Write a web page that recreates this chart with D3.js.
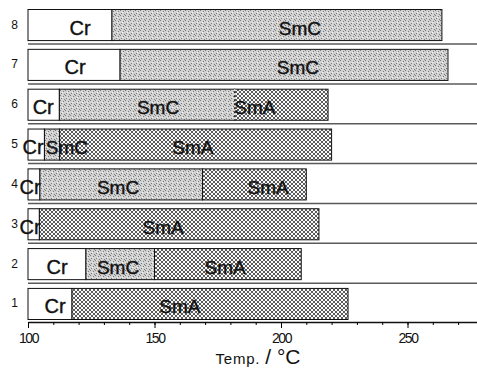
<!DOCTYPE html>
<html>
<head>
<meta charset="utf-8">
<script src="https://cdn.jsdelivr.net/npm/d3@7"></script>
<style>
  body { margin: 0; background: #fff; }
  svg { display: block; font-family: "Liberation Sans", Arial, sans-serif; }
</style>
</head>
<body>
<div id="chart"></div>
<script>
// sample numbers (bottom to top)
const samples = [1, 2, 3, 4, 5, 6, 7, 8];
// Cr -> first mesophase, °C
const meltT = [117.4, 122.9, 104.5, 104.7, 106.5, 112.4, 136.4, 133.2];
// SmC -> SmA, °C (null = no such step)
const smcSmaT = [null, 150.0, null, 169.0, 112.5, 181.7, null, null];
// clearing point, °C
const clearT = [226.5, 208.0, 215.0, 210.0, 220.0, 218.6, 266.0, 263.6];
// phase right above Cr when there is no SmC -> SmA step
const firstPhase = ['SmA', 'SmC', 'SmA', 'SmC', 'SmC', 'SmC', 'SmC', 'SmC'];
// where the phase names are written, °C
const crLabelT  = [110.7, 111.5, 100.8, 100.8, 102.0, 106.0, 118.6, 120.6];
const smcLabelT = [null, 135.6, null, 135.6, 115.4, 151.4, 206.7, 207.5];
const smaLabelT = [160.0, 177.9, 153.4, 194.9, 165.2, 189.7, null, null];
const xTicks = [100, 150, 200, 250];
const xMinorTicks = [100, 110, 120, 130, 140, 150, 160, 170, 180, 190, 200, 210, 220, 230, 240, 250, 260, 270, 280];

const W = 477, H = 373;

const svg = d3.select('#chart')
  .append('svg')
    .attr('width', W)
    .attr('height', H);

// fill patterns
const defs = svg.append('defs');

const smc = defs.append('pattern')
  .attr('id', 'smc')
  .attr('patternUnits', 'userSpaceOnUse')
  .attr('width', 5).attr('height', 5);
smc.append('rect').attr('width', 5).attr('height', 5).attr('fill', '#d2d2d2');
[[0, 0], [3, 1], [1, 3], [4, 4], [2, 2]].forEach((p, i) => {
  smc.append('rect')
    .attr('x', p[0]).attr('y', p[1])
    .attr('width', 1).attr('height', 1)
    .attr('fill', i === 4 ? '#f4f4f4' : '#7a7a7a');
});

const sma = defs.append('pattern')
  .attr('id', 'sma')
  .attr('patternUnits', 'userSpaceOnUse')
  .attr('width', 4).attr('height', 4);
sma.append('rect').attr('width', 4).attr('height', 4).attr('fill', '#fafafa');
sma.append('path')
  .attr('d', 'M0,0L4,4M4,0L0,4')
  .attr('stroke', '#4a4a4a')
  .attr('stroke-width', 0.9);

const phaseFill = {Cr: '#fff', SmC: 'url(#smc)', SmA: 'url(#sma)'};

// scales
const x = d3.scaleLinear().domain([100, 280]).range([28, 483.4]);
const y = d3.scaleBand()
  .domain(samples.slice().reverse())
  .range([9.5, 319.5])
  .paddingInner(0.22)
  .paddingOuter(0);

// Prepare data
const segments = [];
const labels = [];
samples.forEach((s, i) => {
  segments.push({s: s, phase: 'Cr', from: 100, to: meltT[i]});
  if (smcSmaT[i] !== null) {
    segments.push({s: s, phase: 'SmC', from: meltT[i], to: smcSmaT[i]});
    segments.push({s: s, phase: 'SmA', from: smcSmaT[i], to: clearT[i]});
  } else {
    segments.push({s: s, phase: firstPhase[i], from: meltT[i], to: clearT[i]});
  }
  labels.push({s: s, text: 'Cr', t: crLabelT[i]});
  if (smcLabelT[i] !== null) labels.push({s: s, text: 'SmC', t: smcLabelT[i]});
  if (smaLabelT[i] !== null) labels.push({s: s, text: 'SmA', t: smaLabelT[i]});
});

// row separators
svg.append('g')
  .selectAll('line')
  .data(samples.filter(s => s !== 1))
  .enter().append('line')
    .attr('x1', x(100))
    .attr('x2', W)
    .attr('y1', s => y(s) + y.bandwidth() + 3.5)
    .attr('y2', s => y(s) + y.bandwidth() + 3.5)
    .attr('stroke', '#5a5a5a')
    .attr('stroke-width', 1.5);

// bars
svg.append('g')
  .selectAll('rect')
  .data(segments)
  .enter().append('rect')
    .attr('x', d => x(d.from))
    .attr('y', d => y(d.s))
    .attr('width', d => x(d.to) - x(d.from))
    .attr('height', y.bandwidth())
    .attr('fill', d => phaseFill[d.phase])
    .attr('stroke', '#111')
    .attr('stroke-width', 1);

// dotted SmC/SmA border of sample 6
svg.append('line')
  .attr('x1', x(smcSmaT[5])).attr('x2', x(smcSmaT[5]))
  .attr('y1', y(6)).attr('y2', y(6) + y.bandwidth())
  .attr('stroke', '#fff')
  .attr('stroke-width', 1.2)
  .attr('stroke-dasharray', '2,2');

// phase names
svg.append('g')
  .selectAll('text')
  .data(labels)
  .enter().append('text')
    .attr('x', d => x(d.t))
    .attr('y', d => y(d.s) + 25)
    .attr('text-anchor', 'middle')
    .attr('font-size', d => d.text === 'Cr' ? 20 : 19)
    .attr('fill', '#111')
    .attr('stroke', '#111')
    .attr('stroke-width', 0.4)
    .text(d => d.text);

// sample numbers
svg.append('g')
  .selectAll('text')
  .data(samples)
  .enter().append('text')
    .attr('x', 18)
    .attr('y', s => y(s) + 19)
    .attr('text-anchor', 'end')
    .attr('font-size', 12)
    .attr('fill', '#111')
    .text(s => s);

// Add x axis (minor ticks)
svg.append('g')
  .attr('transform', 'translate(0,322)')
  .call(d3.axisBottom(x).tickValues(xMinorTicks).tickSize(3).tickSizeOuter(0).tickFormat(''))
  .call(g => g.select('.domain').attr('stroke', '#111').attr('stroke-width', 1.5));

// Add x axis (labelled ticks)
const ax = svg.append('g')
  .attr('transform', 'translate(0,322)')
  .call(d3.axisBottom(x).tickValues(xTicks).tickSize(6).tickSizeOuter(0).tickPadding(5).tickFormat(d3.format('d')));
ax.select('.domain').remove();
ax.selectAll('text')
  .attr('font-size', 14)
  .attr('letter-spacing', -1.5)
  .attr('fill', '#111')
  .attr('font-family', '"Liberation Sans", Arial, sans-serif');

// axis title
const title = svg.append('text')
  .attr('x', 258)
  .attr('y', 364)
  .attr('text-anchor', 'middle')
  .attr('fill', '#111');
title.append('tspan').attr('font-size', 15).attr('letter-spacing', 0.8).text('Temp. ');
title.append('tspan').attr('font-size', 21).text('/ °C');
</script>
</body>
</html>
